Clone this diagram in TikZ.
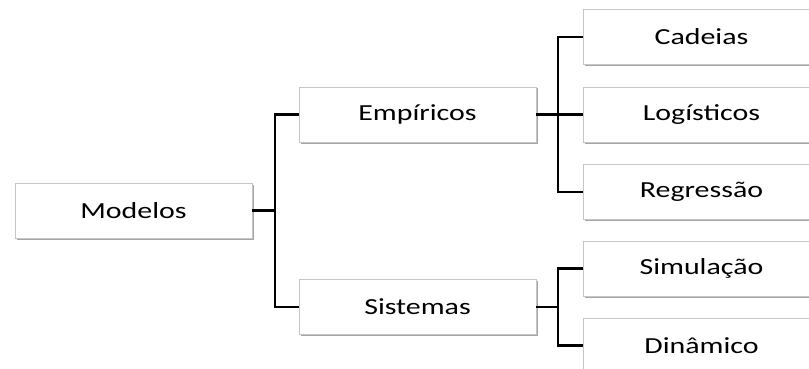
\documentclass[tikz,border=0pt]{standalone}
\usepackage{fontspec}
\setmainfont[FakeStretch=1.3]{Carlito}
\usetikzlibrary{shadows}

\begin{document}
\begin{tikzpicture}[
        x=1pt, y=-1pt,
        every node/.style={font=\fontsize{23}{26}\selectfont},
        box/.style={draw=gray!45, fill=white, rectangle, minimum width=237pt, minimum height=55pt, inner sep=0pt,
            drop shadow={shadow xshift=1.5pt, shadow yshift=-1.5pt, fill=black, opacity=0.35}},
        link/.style={line width=2.2pt, black}
    ]

        % Frame
        \useasboundingbox (0,0) rectangle (809,369);
        \clip (0,0) rectangle (809,369);

        % Root
        \node[box] (modelos) at (133.5, 210.5) {Modelos};

        % Level 1
        \node[box] (emp) at (417.5, 114.5) {Empíricos};
        \node[box] (sis) at (417.5, 307) {Sistemas};

        % Level 2
        \node[box] (cad) at (701.5, 37) {Cadeias};
        \node[box] (log) at (701.5, 114.5) {Logísticos};
        \node[box] (reg) at (701.5, 192) {Regressão};
        \node[box] (sim) at (701.5, 268.5) {Simulação};
        \node[box] (din) at (701.5, 345.5) {Dinâmico};

        % Junctions
        \coordinate (j1) at (275, 0);
        \coordinate (j2) at (558, 0);

        % Links
        \draw[link] (modelos.east) -- (modelos.east -| j1);
        \draw[link] (emp.west) -| (j1 |- sis.west) -- (sis.west);
        \draw[link] (emp.east) -- (emp.east -| j2);
        \draw[link] (cad.west) -| (j2 |- reg.west) -- (reg.west);
        \draw[link] (log.west) -- (log.west -| j2);
        \draw[link] (sis.east) -- (sis.east -| j2);
        \draw[link] (sim.west) -| (j2 |- din.west) -- (din.west);

    \end{tikzpicture}
\end{document}
